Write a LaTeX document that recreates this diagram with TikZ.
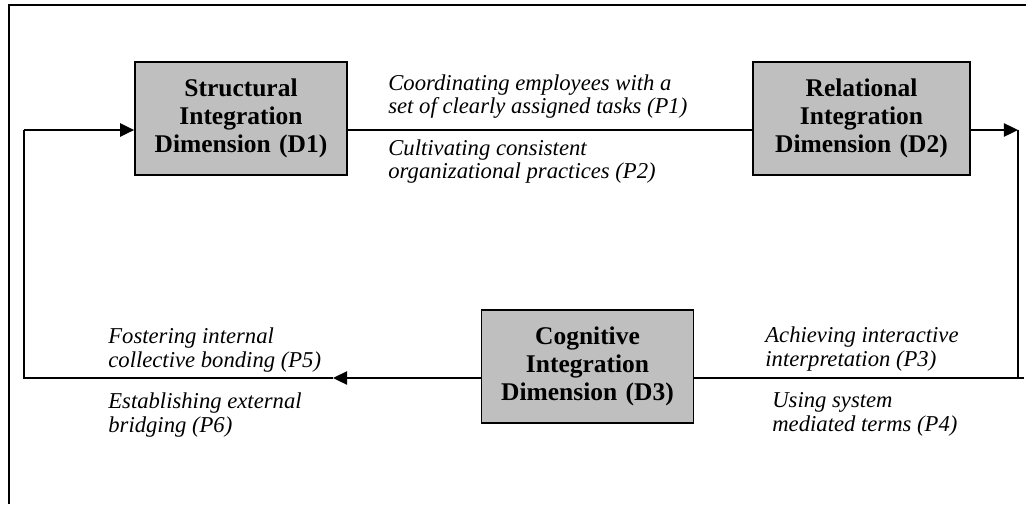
\documentclass[tikz,border=0pt]{standalone}
\usepackage{fontspec}
\setmainfont{Liberation Serif}
\usetikzlibrary{arrows.meta, positioning}
\tikzstyle{dimbox} = [rectangle, draw=black, line width=1pt, fill=black!25, minimum width=4.24cm, minimum height=2.26cm, text width=4cm, align=center, inner sep=0pt, font=\bfseries\fontsize{14.5}{15.9}\selectfont]
\tikzstyle{prop} = [anchor=base west, align=left, inner sep=0pt, font=\itshape\fontsize{12.9}{13.6}\selectfont]
\tikzstyle{tightprop} = [prop, font=\itshape\fontsize{12.9}{11.4}\selectfont]
\tikzstyle{conn} = [line width=1.1pt]
\tikzstyle{arrow} = [conn, -{Triangle[length=8pt, width=7.5pt]}]

\begin{document}
\begin{tikzpicture}[x=0.02cm, y=-0.02cm]
    \useasboundingbox (0,0) rectangle (1026,504);
    % frame
    \draw[conn] (9,504) -- (9,5) -- (1026,5);

    \node (d1) [dimbox] at (241,118.5) {Structural\\Integration\\Dimension (D1)};
    \node (d2) [dimbox, minimum width=4.34cm] at (861.5,118.5) {Relational\\Integration\\Dimension (D2)};
    \node (d3) [dimbox] at (587.5,366.5) {Cognitive\\Integration\\Dimension (D3)};

    \coordinate (lt) at (24,130);
    \coordinate (rt) at (1018,130);
    \coordinate (rb) at (1018,378);
    \coordinate (re) at (1024,378);
    \coordinate (mid) at (333,378);
    \coordinate (lb) at (24,378);

    \draw[conn] (d1.east |- lt) -- (d2.west |- lt);
    \draw[arrow] (d2.east |- rt) -- (rt);
    \draw[conn] (rt) -- (rb);
    \draw[conn] (re) -- (d3.east |- re);
    \draw[arrow] (d3.west |- mid) -- (mid);
    \draw[conn] (mid) -- (lb) -- (lt);
    \draw[arrow] (lt) -- (d1.west |- lt);

    % labels, anchored at the last baseline
    \node (p1) [tightprop] at (388,113) {Coordinating employees with a\\set of clearly assigned tasks (P1)};
    \node (p2) [tightprop] at (388,178) {Cultivating consistent\\organizational practices (P2)};
    \node (p3) [prop] at (765,366) {Achieving interactive\\interpretation (P3)};
    \node (p4) [prop] at (772,431) {Using system\\mediated terms (P4)};
    \node (p5) [prop] at (108,367) {Fostering internal\\collective bonding (P5)};
    \node (p6) [prop] at (108,432) {Establishing external\\bridging (P6)};
\end{tikzpicture}
\end{document}
